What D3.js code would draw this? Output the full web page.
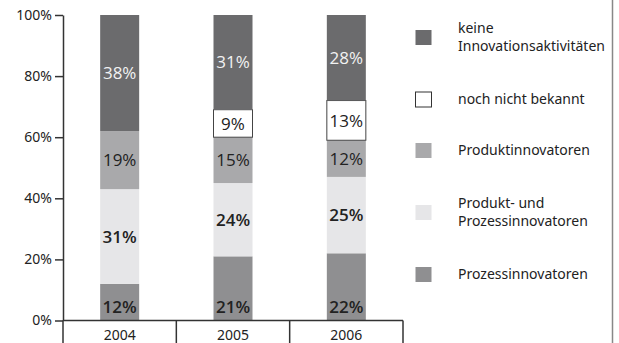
<!DOCTYPE html>
<html>
<head>
<meta charset="utf-8">
<script src="https://cdn.jsdelivr.net/npm/d3@7"></script>
<style>
  body { margin: 0; background: #fff; }
  svg { display: block; font-family: "Noto Sans", sans-serif; }
</style>
</head>
<body>
<div id="chart"></div>
<script>
const years = ['2004', '2005', '2006'];
const seriesKeys = ['prozess', 'produktProzess', 'produkt', 'nochNicht', 'keine'];
const prozess = [12, 21, 22];
const produktProzess = [31, 24, 25];
const produkt = [19, 15, 12];
const nochNicht = [0, 9, 13];
const keine = [38, 31, 28];
const yTicks = [0, 20, 40, 60, 80, 100];
const legendOrder = ['keine', 'nochNicht', 'produkt', 'produktProzess', 'prozess'];
const legendLabels = {
    keine: ['keine', 'Innovationsaktivitäten'],
    nochNicht: ['noch nicht bekannt'],
    produkt: ['Produktinnovatoren'],
    produktProzess: ['Produkt- und', 'Prozessinnovatoren'],
    prozess: ['Prozessinnovatoren'],
};

const width = 619;
const height = 343;

const colors = {
    prozess: '#8f8f91',
    produktProzess: '#e6e6e8',
    produkt: '#a9a9ab',
    nochNicht: '#ffffff',
    keine: '#6b6b6d',
};
const textColors = {
    prozess: '#222',
    produktProzess: '#222',
    produkt: '#222',
    nochNicht: '#222',
    keine: '#f2f2f2',
};
const textWeights = {
    prozess: 600,
    produktProzess: 600,
    produkt: 400,
    nochNicht: 400,
    keine: 400,
};

const table = years.map((year, i) => ({
    year,
    prozess: prozess[i],
    produktProzess: produktProzess[i],
    produkt: produkt[i],
    nochNicht: nochNicht[i],
    keine: keine[i],
}));

const stacked = d3.stack().keys(seriesKeys)(table);

const svg = d3.select('#chart')
    .append('svg')
    .attr('width', width)
    .attr('height', height);

const xScale = d3.scaleBand().domain(years).range([63, 403]).padding(0);
const yScale = d3.scaleLinear().domain([0, 100]).range([320.5, 15]);
const barWidth = 39;
const barX = (year) => xScale(year) + (xScale.bandwidth() - barWidth) / 2;

// bars
const layers = svg.append('g')
    .selectAll('g')
    .data(stacked)
    .join('g')
    .attr('fill', (s) => colors[s.key]);

layers.selectAll('rect')
    .data((s) => s.map((d) => ({ key: s.key, d })))
    .join('rect')
    .attr('x', (p) => barX(p.d.data.year))
    .attr('y', (p) => yScale(p.d[1]))
    .attr('width', barWidth)
    .attr('height', (p) => yScale(p.d[0]) - yScale(p.d[1]))
    .attr('stroke', (p) => p.key === 'nochNicht' && p.d[1] > p.d[0] ? '#444' : 'none')
    .attr('stroke-width', 1);

// value labels
const labels = svg.append('g')
    .attr('text-anchor', 'middle')
    .attr('font-size', 17)
    .attr('font-family', '"Open Sans", "Noto Sans", sans-serif');
stacked.forEach((s) => {
    s.forEach((d) => {
        const v = d[1] - d[0];
        if (!v) return;
        let cy = (yScale(d[0]) + yScale(d[1])) / 2;
        if (s.key === 'prozess') cy = yScale(0) - 14;
        labels.append('text')
            .attr('x', barX(d.data.year) + barWidth / 2)
            .attr('y', cy)
            .attr('dy', '0.36em')
            .attr('fill', textColors[s.key])
            .attr('font-weight', textWeights[s.key])
            .text(v + '%');
    });
});

// y axis
const yAxis = d3.axisLeft(yScale)
    .tickValues(yTicks)
    .tickFormat((d) => d + '%')
    .tickSize(8)
    .tickSizeOuter(0)
    .tickPadding(3);

const gy = svg.append('g')
    .attr('transform', 'translate(63,0)')
    .call(yAxis);
gy.select('.domain').attr('stroke', '#333').attr('stroke-width', 1.5);
gy.selectAll('.tick line').attr('stroke', '#333').attr('stroke-width', 1.5);
gy.selectAll('.tick text')
    .attr('fill', '#222')
    .attr('font-size', 14)
    .attr('font-family', '"Noto Sans", sans-serif');

// x axis line and category separators
svg.append('line')
    .attr('x1', 63).attr('x2', xScale.range()[1])
    .attr('y1', yScale(0)).attr('y2', yScale(0))
    .attr('stroke', '#333').attr('stroke-width', 1.5);

const bounds = years.map((y) => xScale(y)).concat([xScale.range()[1]]);
svg.append('g')
    .selectAll('line')
    .data(bounds)
    .join('line')
    .attr('x1', (d) => d).attr('x2', (d) => d)
    .attr('y1', yScale(0)).attr('y2', height)
    .attr('stroke', '#333').attr('stroke-width', 1.5);

svg.append('g')
    .attr('text-anchor', 'middle')
    .attr('font-size', 14)
    .attr('fill', '#222')
    .selectAll('text')
    .data(years)
    .join('text')
    .attr('x', (d) => xScale(d) + xScale.bandwidth() / 2)
    .attr('y', 340)
    .text((d) => d);

// legend
const legend = svg.append('g').attr('font-size', 14).attr('fill', '#222');
let cy = 37.5;
legendOrder.forEach((key, i) => {
    const lines = legendLabels[key];
    if (i > 0) {
        const prev = legendLabels[legendOrder[i - 1]].length;
        cy += 51 + 11 * (prev - 1) + 11 * (lines.length - 1);
    }
    legend.append('rect')
        .attr('x', 415.5).attr('y', cy - 7.5)
        .attr('width', 16).attr('height', 15)
        .attr('fill', colors[key])
        .attr('stroke', key === 'nochNicht' ? '#333' : 'none');
    const t = legend.append('text').attr('x', 458);
    lines.forEach((line, j) => {
        t.append('tspan')
            .attr('x', 458)
            .attr('y', cy + 4.5 + (j - (lines.length - 1) / 2) * 18)
            .text(line);
    });
});

// right frame line
svg.append('line')
    .attr('x1', 612.5).attr('x2', 612.5)
    .attr('y1', 0).attr('y2', height)
    .attr('stroke', '#888').attr('stroke-width', 1.5);
</script>
</body>
</html>
